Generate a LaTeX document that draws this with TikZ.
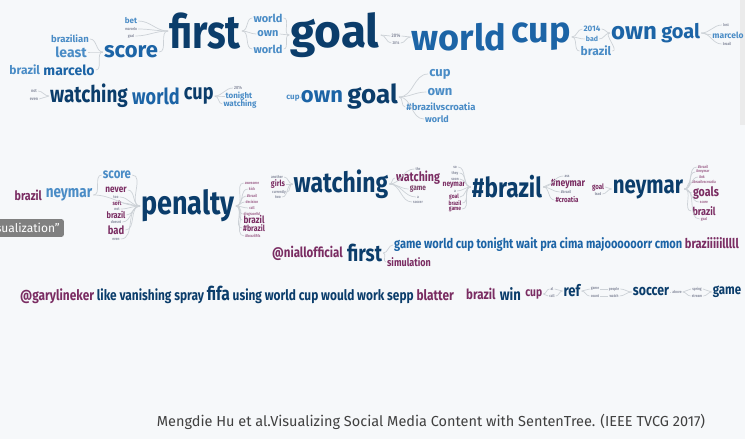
\documentclass[tikz,border=0pt]{standalone}
\usepackage{fontspec}
\setmainfont{Fira Sans}
\newfontfamily\narrowsans{Fira Sans}[FakeStretch=0.82]
\usepackage{xcolor}
\usetikzlibrary{positioning}
\definecolor{navy}{HTML}{0B3D6B}
\definecolor{midblue}{HTML}{1C64A6}
\definecolor{lightblue}{HTML}{4A8CC6}
\definecolor{plum}{HTML}{7A2C62}
\definecolor{tinycol}{HTML}{8A8FA0}
\definecolor{linkgray}{HTML}{CDD2D7}
\definecolor{paper}{HTML}{F6F8FA}
\tikzset{
  sz/.style = {font=\fontsize{#1}{#1}\selectfont\bfseries},
  nsz/.style = {font=\fontsize{#1}{#1}\narrowsans\bfseries},
  word/.style = {inner sep=0pt, outer sep=1.2pt},
  hub/.style = {word, text=navy},
  mid/.style = {word, text=midblue},
  leaf/.style = {word, text=lightblue},
  pleaf/.style = {word, text=plum},
  tiny/.style = {word, nsz=4, text=tinycol},
  link/.style = {draw=linkgray, line width=0.7pt}
}

\begin{document}
\begin{tikzpicture}[x=1pt, y=-1pt]
  \useasboundingbox (0,0) rectangle (745,439);
  \fill[paper] (0,0) rectangle (745,439);
  \fill[black!8] (740,0) rectangle (745,125);

  % top tree
  \node[hub, nsz=47] (first) at (205,31) {first};
  \node[leaf, sz=8] (bet) at (131,21) {bet};
  \node[tiny] (mrc1) at (131,29) {marcelo};
  \node[tiny] (gl1) at (131,36) {goal};
  \node[mid, sz=22] (score) at (131,52) {score};
  \node[leaf, sz=9.5] (brazilian) at (70,39) {brazilian};
  \node[leaf, sz=14] (least) at (71,52) {least};
  \node[mid, sz=14] (marcS) at (69,70) {marcelo};
  \node[leaf, sz=12, left=1pt of marcS] (brzS) {brazil};
  \node[leaf, sz=11] (w1) at (268,18) {world};
  \node[leaf, sz=11] (own1) at (268,34) {own};
  \node[leaf, sz=11] (w2) at (268,49) {world};
  \node[hub, sz=46] (goal) at (335,35) {goal};
  \node[tiny, nsz=5] (y1) at (396,36) {2014};
  \node[tiny] (y2) at (396,43) {2014};
  \node[mid, sz=36] (worldA) at (459,37) {world};
  \node[mid, sz=36, right=3pt of worldA] (cupA) {cup};
  \node[leaf, sz=8] (y3) at (592,29) {2014};
  \node[leaf, sz=7] (bad1) at (592,39) {bad};
  \node[leaf, sz=12] (brzA) at (596,51) {brazil};
  \node[mid, sz=24] (ownB) at (634,33) {own};
  \node[mid, sz=20, right=2pt of ownB] (goalB) {goal};
  \node[tiny] (lost) at (726,25) {lost};
  \node[leaf, sz=8.5] (marcB) at (728,35) {marcelo};
  \node[tiny] (brzB) at (727,44) {brazil};

  \node[tiny, nsz=4.5] (not1) at (34,91) {not};
  \node[tiny, nsz=4.5] (even1) at (34,99) {even};
  \node[hub, nsz=23] (watchC) at (89,96) {watching};
  \node[mid, nsz=22, right=2pt of watchC] (worldC) {world};
  \node[hub, nsz=22, right=2pt of worldC] (cupC) {cup};
  \node[tiny, nsz=4.5] (y4) at (238,88) {2014};
  \node[leaf, sz=8] (tonight) at (239,96) {tonight};
  \node[leaf, sz=8] (watchT) at (240,104) {watching};
  \node[leaf, sz=8] (cupD) at (293,98) {cup};
  \node[mid, sz=22] (ownD) at (322,97) {own};
  \node[hub, sz=26, right=2pt of ownD] (goalD) {goal};
  \node[leaf, sz=13] (cupE) at (440,74) {cup};
  \node[leaf, sz=13] (ownE) at (440,92) {own};
  \node[leaf, sz=9.5] (bvc) at (441,107) {\#brazilvscroatia};
  \node[leaf, sz=9] (worldE) at (437,119) {world};

  \foreach \a/\b in {bet/first, mrc1/first, gl1/first, score/first,
      brazilian/score, least/score, marcS/score,
      w1/goal, own1/goal, w2/goal, y1/worldA, y2/worldA,
      y3/ownB, bad1/ownB, brzA/ownB, not1/watchC, even1/watchC, cupD/ownD} {
    \draw[link] (\a.east) to[out=0, in=180] (\b.west);
  }
  \foreach \a/\b in {first/w1, first/own1, first/w2, goal/y1, goal/y2,
      cupA/y3, cupA/bad1, cupA/brzA, goalB/lost, goalB/marcB, goalB/brzB,
      cupC/y4, cupC/tonight, cupC/watchT,
      goalD/cupE, goalD/ownE, goalD/bvc, goalD/worldE} {
    \draw[link] (\a.east) to[out=0, in=180] (\b.west);
  }

  % middle tree
  \node[hub, nsz=33] (penalty) at (188,206) {penalty};
  \node[leaf, nsz=14] (scoreP) at (117,175) {score};
  \node[leaf, nsz=16.5] (neymarN) at (69,195) {neymar};
  \node[pleaf, nsz=13, left=1.5pt of neymarN] (brzN) {brazil};
  \node[pleaf, nsz=10] (never) at (116,190) {never};
  \node[pleaf, nsz=6] (soft) at (117,203) {soft};
  \node[pleaf, nsz=9] (brzP) at (116,215) {brazil};
  \node[pleaf, nsz=11.5] (badP) at (116,230) {bad};
  \foreach \n/\x/\y/\t in {too/116/197/too, not2/117/209/not,
      doesnt/116/222/doesnt, even2/116/239/even} {
    \node[tiny] (\n) at (\x,\y) {\t};
  }
  \foreach \n/\x/\y/\t in {pa/252/183/awesome, pb/252/189/kick,
      pc/252/196/\#brazil, pd/252/202/decision, pe/252/208/call,
      pf/252/214/disgraceful, pi/253/236/\#brazilfifa} {
    \node[tiny, text=plum!70] (\n) at (\x,\y) {\t};
  }
  \node[pleaf, nsz=10] (pg) at (254,220) {brazil};
  \node[pleaf, nsz=8.5] (ph) at (254,228) {\#brazil};

  \node[hub, nsz=28] (watchW) at (341,184) {watching};
  \node[tiny] (wa) at (277,177) {another};
  \node[pleaf, nsz=8.5] (girls) at (278,184) {girls};
  \node[tiny] (wc) at (279,192) {currently};
  \node[tiny] (wd) at (278,197) {two};
  \node[tiny] (the) at (418,169) {the};
  \node[pleaf, nsz=13] (watch2) at (418,178) {watching};
  \node[pleaf, nsz=8, text=plum!75!gray] (game2) at (418,189) {game};
  \node[tiny] (aa) at (418,197) {a};
  \node[tiny] (soccer2) at (418,202) {soccer};

  \node[hub, nsz=27.5] (hbrazil) at (507,187) {\#brazil};
  \foreach \n/\x/\y/\t in {ba/455/167/so, bb/455/173/they, bc/455/179/soon,
      be/455/191/a/c} {
    \node[tiny] (\n) at (\x,\y) {\t};
  }
  \node[pleaf, nsz=8] (bd) at (454,185) {neymar};
  \node[pleaf, nsz=6] (bf) at (454,197) {goal};
  \node[pleaf, nsz=6] (bg) at (455,203) {brazil};
  \node[pleaf, nsz=6] (bh) at (455,209) {game};
  \node[tiny] (ass) at (567,176) {ass};
  \node[pleaf, nsz=10.5] (hneymar) at (568,184) {\#neymar};
  \node[tiny] (hbr2) at (566,192) {\#brazil};
  \node[pleaf, nsz=7.5] (hcro) at (567,200) {\#croatia};
  \node[pleaf, nsz=7.5] (goal3) at (598,187) {goal};
  \node[tiny] (lead) at (598,194) {lead};
  \node[hub, nsz=25] (neymarX) at (648,189) {neymar};
  \foreach \n/\x/\y/\t in {na/703/167/\#brazil, nb/703/172/\#neymar,
      nc/702/177/\#ok, nd/704/182/\#brazilvscroatia, nf/704/202/score,
      nh/704/219/goal} {
    \node[tiny, text=plum!70] (\n) at (\x,\y) {\t};
  }
  \node[pleaf, nsz=13] (goals) at (706,193) {goals};
  \node[pleaf, nsz=11] (brzX) at (704,211) {brazil};

  \foreach \a/\b in {neymarN/scoreP, neymarN/penalty, scoreP/penalty,
      never/penalty, too/penalty, soft/penalty, not2/penalty, brzP/penalty,
      doesnt/penalty, badP/penalty, even2/penalty,
      wa/watchW, girls/watchW, wc/watchW, wd/watchW,
      ba/hbrazil, bb/hbrazil, bc/hbrazil, bd/hbrazil, be/hbrazil,
      bf/hbrazil, bg/hbrazil, bh/hbrazil, goal3/neymarX, lead/neymarX} {
    \draw[link] (\a.east) to[out=0, in=180] (\b.west);
  }
  \foreach \a/\b in {penalty/pa, penalty/pb, penalty/pc, penalty/pd,
      penalty/pe, penalty/pf, penalty/pg, penalty/ph, penalty/pi,
      watchW/the, watchW/watch2, watchW/game2, watchW/aa, watchW/soccer2,
      hbrazil/ass, hbrazil/hneymar, hbrazil/hbr2, hbrazil/hcro,
      neymarX/na, neymarX/nb, neymarX/nc, neymarX/nd, neymarX/goals,
      neymarX/nf, neymarX/brzX, neymarX/nh} {
    \draw[link] (\a.east) to[out=0, in=180] (\b.west);
  }

  % sentence rows
  \node[pleaf, nsz=14, anchor=west] (niall) at (271,253) {@niallofficial};
  \node[hub, nsz=23, right=2pt of niall] (first2) {first};
  \node[mid, nsz=13.5, anchor=west] (tail) at (393,245)
    {game world cup tonight wait pra cima majoooooorr cmon \textcolor{plum}{braziiiiilllll}};
  \node[pleaf, nsz=11] (simul) at (409,262) {simulation};
  \draw[link] (first2.east) to[out=0, in=180] (tail.west);
  \draw[link] (first2.east) to[out=0, in=180] (simul.west);

  \node[hub, nsz=14.5, anchor=west] (gary) at (19,295)
    {\textcolor{plum}{@garylineker} like vanishing spray {\fontsize{19}{19}\selectfont fifa}
     using world cup would work sepp \textcolor{plum}{blatter}};
  \node[pleaf, nsz=14, anchor=west] (brzW) at (465,294) {brazil};
  \node[hub, nsz=16, right=2pt of brzW] (win) {win};
  \node[pleaf, nsz=12.5, right=2pt of win] (cupW) {cup};
  \node[tiny] (al) at (552,289) {al};
  \node[tiny] (call) at (552,296) {call};
  \node[hub, nsz=16] (ref) at (572,291) {ref};
  \node[tiny] (gm) at (595,289) {game};
  \node[tiny] (cnt) at (595,296) {count};
  \node[tiny] (ppl) at (614,289) {people};
  \node[tiny] (wtc) at (614,296) {watch};
  \node[hub, nsz=15] (soccerW) at (651,292) {soccer};
  \node[tiny] (above) at (677,292) {above};
  \node[tiny] (spr) at (697,289) {spring};
  \node[tiny] (str) at (697,296) {stream};
  \node[hub, nsz=14] (gameW) at (727,292) {game};
  \foreach \a/\b in {cupW/al, cupW/call, al/ref, call/ref, ref/gm, ref/cnt,
      gm/ppl, cnt/wtc, ppl/soccerW, wtc/soccerW, soccerW/above,
      above/spr, above/str, spr/gameW, str/gameW} {
    \draw[link] (\a.east) to[out=0, in=180] (\b.west);
  }

  % label tab and caption
  \node[fill=black!50, text=white, rounded corners=2pt, inner sep=4pt,
    font=\fontsize{12}{12}\selectfont, anchor=east] (tab) at (64,228) {isualization”};
  \node[text=black!75, font=\fontsize{14.5}{14.5}\selectfont] (caption) at (431,422)
    {Mengdie Hu et al.Visualizing Social Media Content with SentenTree. (IEEE TVCG 2017)};
\end{tikzpicture}
\end{document}
